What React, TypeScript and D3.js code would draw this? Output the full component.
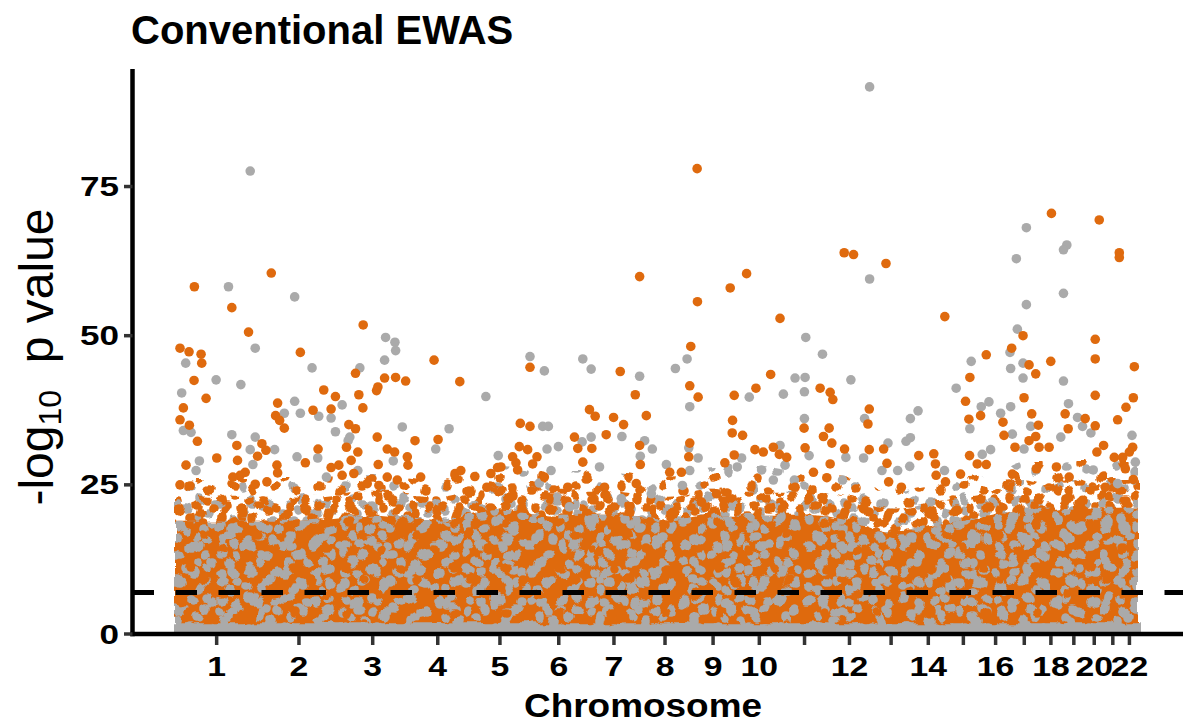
import React, { useEffect } from 'react';
import * as d3 from 'd3';

// ---------------- DATA ----------------
const chromosomes = ['1','2','3','4','5','6','7','8','9','10','11','12','13','14','15','16','17','18','19','20','21','22'];
const chrLengthsMb = [249.25, 243.2, 198.0, 191.2, 180.9, 171.1, 159.1, 146.4, 141.2, 135.5, 135.0, 133.9, 115.2, 107.3, 102.5, 90.4, 81.2, 78.1, 59.1, 63.0, 48.1, 51.3];
const chrTickLabels = ['1','2','3','4','5','6','7','8','9','10','','12','','14','','16','','18','','20','','22'];
const yTicks = [0, 25, 50, 75];
const yMax = 94.7;
const threshold = 6.95;
// upper edge of the dense cloud of CpGs (per chromosome, -log10 p)
const bandTop = [26, 26, 27, 26, 28, 27, 27, 26, 28, 28, 27, 26, 24, 25, 26, 27, 29, 29, 29, 29, 29, 29];
// level where the cloud becomes crowded
const midTop = [23, 23, 24, 23, 25, 24, 24, 23, 24, 24, 24, 23, 21, 22, 23, 24, 26, 25, 26, 25, 26, 26];
// level below which the cloud is (almost) fully covered
const solidTop = [19, 19, 20, 19, 21, 20, 20, 19, 20, 20, 20, 19, 17, 18, 19, 20, 21, 21, 21, 21, 21, 21];
const floorLevel = 1.8;

// individual CpGs above the dense cloud: [cumulative genome position (Mb), -log10 p]
const orangePoints: [number, number][] = [
  [58,58.2],[288,60.5],[170,54.7],[563,51.8],[1562,78.0],[1390,59.9],[1563,55.7],[1661,58.0],[1710,60.4],[1810,52.9],
  [2002,63.9],[2030,63.6],[2127,62.1],[2622,70.5],[2765,69.4],[2825,63.9],[2825,63.1],
  [15,47.9],[42,47.3],[78,46.9],[80,45.4],[57,42.5],[93,39.5],[25,37.9],[15,35.9],[43,35.0],[67,32.3],[125,29.5],[33,28.3],[15,25.0],
  [185,31.6],[260,31.9],[272,30.8],[247,29.8],[187,29.1],[305,28.3],[307,27.0],[275,25.5],[240,25.1],[210,27.1],[195,26.6],[173,26.3],
  [220,50.6],[375,47.2],[445,40.9],[480,39.8],[550,40.1],[562,37.9],[540,43.7],[775,45.9],[852,42.3],[603,40.8],[607,41.4],[627,42.9],
  [660,43.0],[690,42.4],[307,38.7],[301,36.6],[313,35.8],[327,34.5],[413,37.5],[467,37.7],[520,35.1],[540,34.4],[513,31.3],[527,29.1],
  [547,30.5],[605,33.0],[635,31.0],[657,30.5],[608,28.4],[635,26.3],[718,32.4],[787,32.6],[695,29.7],[697,28.3],[735,26.3],[838,26.9],
  [855,27.4],[428,31.0],[390,28.7],[467,27.9],[490,28.3],[500,26.6],[535,26.9],[575,25.2],[610,24.9],[665,25.8],
  [1062,44.7],[1332,44.0],[1377,40.1],[1410,36.6],[1543,48.2],[1540,41.6],[1565,39.7],[1673,40.0],[1738,41.2],[1782,43.5],[1033,35.3],
  [1062,34.8],[1030,31.4],[1055,30.9],[1083,29.7],[1020,28.7],[975,28.0],[897,26.4],[933,24.6],[1240,37.6],[1257,36.5],[1312,36.3],
  [1342,35.1],[1290,33.4],[1195,33.0],[1205,31.1],[1247,31.1],[1220,28.8],[1390,31.6],[1392,28.4],[1480,27.1],[1515,27.1],[1540,32.0],
  [1537,29.7],[1620,23.5],[1668,35.8],[1667,33.7],[1698,33.3],[1673,30.0],[1645,28.7],[1735,30.9],[1760,30.5],[1790,31.3],[1808,30.1],
  [1855,24.6],[965,27.9],[945,26.9],[1010,29.7],[1025,27.5],[1070,28.5],[1105,26.3],[1175,24.6],[1285,24.6],[1380,25.2],[1575,22.1],
  [1930,41.2],[1960,40.5],[1968,39.3],[2077,37.7],[2073,35.2],[1940,33.1],[1957,34.5],[1965,32.0],[1882,34.5],[1885,31.2],[2003,31.0],
  [2077,30.9],[1960,28.5],[1950,26.2],[1910,27.1],[1830,29.6],[2120,31.0],[2130,28.6],[2135,25.5],[2225,29.9],[2173,24.6],[2270,30.2],
  [2275,28.5],[2277,26.6],[2305,25.5],[2303,53.2],[2378,43.0],[2427,46.8],[2365,39.0],[2375,36.0],[2410,36.6],[2350,26.8],[2377,29.9],
  [2427,28.4],[2400,28.5],[2477,35.5],[2480,33.3],[2503,47.9],[2537,50.0],[2555,45.1],[2575,43.6],[2620,45.7],[2540,39.6],[2563,36.9],
  [2583,35.0],[2513,31.3],[2555,32.4],[2575,33.1],[2615,31.3],[2585,31.3],[2577,27.7],[2505,26.8],[2663,36.9],[2672,34.4],[2637,28.0],
  [2723,36.1],[2753,49.4],[2753,46.1],[2753,40.0],[2753,34.9],[2758,30.5],[2778,31.6],[2820,35.9],[2845,38.0],[2870,44.8],[2867,39.6],
  [2865,31.3],[2855,30.5],[2835,29.6],[2810,29.6],[2843,27.7],[2867,25.9],[2783,24.6],[2715,22.4],[2675,26.3]
];

const grayPoints: [number, number][] = [
  [225,77.6],[160,58.2],[358,56.5],[2078,91.7],[2078,59.5],[2547,68.1],[2668,65.2],[2658,64.4],[2517,62.9],[2658,57.1],[2547,55.2],
  [32,45.4],[123,42.6],[197,41.8],[20,40.4],[25,34.1],[48,33.8],[73,29.0],[63,27.4],[170,33.4],[240,33.0],[225,30.9],[298,30.9],[233,28.4],
  [240,47.9],[410,44.6],[500,38.4],[553,44.6],[627,45.9],[630,49.7],[658,48.9],[660,47.5],[327,37.0],[358,39.0],[375,37.0],[430,36.5],
  [467,36.2],[480,33.9],[518,32.4],[523,33.0],[653,29.0],[680,34.7],[780,31.0],[820,34.4],[365,29.7],[427,29.5],[453,26.3],[547,27.4],
  [930,39.8],[1062,46.5],[1105,44.1],[1220,46.1],[1245,44.4],[1390,43.2],[1497,44.5],[1532,46.1],[1540,38.1],[1718,39.7],[1820,40.2],
  [1855,42.9],[1100,34.8],[1117,34.8],[1147,31.4],[1113,31.0],[967,29.9],[1337,33.1],[1245,33.0],[1218,32.2],[1270,28.0],[1405,32.4],
  [1428,31.0],[1392,29.8],[1470,28.4],[1537,31.2],[1565,29.5],[1540,27.4],[1518,24.9],[1682,28.0],[1695,29.5],[1755,27.5],[1810,31.6],
  [1825,28.3],[1790,25.8],[1125,27.4],[1090,25.3],[1180,21.3],[1335,22.7],[1425,23.5],
  [1887,49.7],[1937,46.9],[1885,43.0],[1883,40.6],[2022,42.6],[2063,36.1],[1883,36.1],[1897,29.9],[2007,29.6],[2060,29.5],[1997,25.8],
  [1853,25.8],[2133,32.0],[2115,27.4],[2162,27.4],[2200,36.1],[2223,37.4],[2187,32.3],[2200,32.9],[2198,28.1],[2302,27.4],[2337,41.2],
  [2382,45.7],[2378,34.4],[2412,38.1],[2435,38.9],[2415,30.1],[2440,30.9],[2470,37.0],[2500,38.1],[2498,47.2],[2500,44.5],[2520,51.1],
  [2537,45.4],[2537,42.9],[2560,34.8],[2505,33.5],[2540,31.0],[2658,42.4],[2673,38.6],[2650,33.0],[2700,36.3],[2715,34.8],[2740,33.7],
  [2747,27.5],[2863,33.3],[2873,28.8],[2820,25.2]
];

// ---------------- STYLE ----------------
const ORANGE = '#DF6A0E';
const GRAY = '#AAAAAA';
const R = 4.8;
const FONT = '"Liberation Sans", Arial, Helvetica, sans-serif';

// decorative textures for the dense cloud: several co-prime tiles overlaid
type Tex = { id: string; w: number; h: number; fill: string; c: number[][] };
const textures: Tex[] = [
  { id: 'a1', w: 43, h: 38, fill: ORANGE, c: [[6,7],[27,22],[38,34],[18,30]] },
  { id: 'a2', w: 51, h: 33, fill: GRAY, c: [[14,9],[38,25],[47,4]] },
  { id: 'b1', w: 31, h: 27, fill: ORANGE, c: [[4,5],[17,10],[26,22],[10,20]] },
  { id: 'b3', w: 43, h: 37, fill: ORANGE, c: [[8,30],[20,5],[35,18],[28,32]] },
  { id: 'b2', w: 37, h: 33, fill: GRAY, c: [[12,26],[30,9],[2,14],[22,18]] },
  { id: 'c1', w: 31, h: 27, fill: GRAY, c: [[5,6],[20,15],[12,23]] },
  { id: 'c2', w: 47, h: 41, fill: GRAY, c: [[11,13],[36,6],[25,29],[44,37]] },
  { id: 'c4', w: 41, h: 29, fill: GRAY, c: [[30,22],[16,3],[2,18]] },
  { id: 'c3', w: 53, h: 45, fill: ORANGE, c: [[9,9],[30,28],[46,40]] },
];

function Pattern({ t }: { t: Tex }) {
  const els: JSX.Element[] = [];
  t.c.forEach(([cx, cy], i) => {
    for (let dx = -1; dx <= 1; dx++) for (let dy = -1; dy <= 1; dy++) {
      els.push(<circle key={`${i}_${dx}_${dy}`} cx={cx + dx * t.w} cy={cy + dy * t.h} r={R} fill={t.fill} />);
    }
  });
  return <pattern id={t.id} patternUnits="userSpaceOnUse" width={t.w} height={t.h}>{els}</pattern>;
}

export default function App() {
  useEffect(() => { document.body.style.margin = '0'; }, []);
  const W = 1183, H = 726;
  const total = d3.sum(chrLengthsMb);
  const starts = chrLengthsMb.map((_, i) => d3.sum(chrLengthsMb.slice(0, i)));
  const centers = starts.map((s, i) => s + chrLengthsMb[i] / 2);

  const x = d3.scaleLinear().domain([0, total]).range([175, 1138]);
  const y = d3.scaleLinear().domain([0, yMax]).range([634, 69]);

  const mk = (vals: number[]) => {
    const pts: [number, number][] = [[0, vals[0]], ...centers.map((c, i) => [c, vals[i]] as [number, number]), [total, vals[vals.length - 1]]];
    return d3.area<[number, number]>().x(d => x(d[0])).y0(y(0)).y1(d => y(d[1])).curve(d3.curveMonotoneX)(pts) || '';
  };
  const outerPath = mk(bandTop);
  const midPath = mk(midTop);
  const solidPath = mk(solidTop);

  const axisX0 = 132.5;
  const axisY0 = 634;

  return (
    <svg width={W} height={H} style={{ position: 'absolute', left: 0, top: 0, background: '#fff' }} fontFamily={FONT}>
      <defs>
        {textures.map(t => <Pattern key={t.id} t={t} />)}
        <filter id="rough" filterUnits="userSpaceOnUse" x={150} y={380} width={1010} height={270}>
          <feTurbulence type="fractalNoise" baseFrequency="0.05" numOctaves={2} seed={4} result="n" />
          <feDisplacementMap in="SourceGraphic" in2="n" scale={10} xChannelSelector="R" yChannelSelector="G" />
        </filter>
        <clipPath id="cloudClip">
          <rect x={x(0) - 1} y={0} width={x(total) - x(0) + 4} height={axisY0} />
        </clipPath>
      </defs>

      {/* title */}
      <text x={131} y={44} fontSize={40} fontWeight="bold" fill="#000">Conventional EWAS</text>

      {/* dense cloud */}
      <g clipPath="url(#cloudClip)">
        <g filter="url(#rough)">
          <path d={outerPath} fill="url(#a2)" />
          <path d={outerPath} fill="url(#a1)" />
          <path d={midPath} fill="url(#b2)" />
          <path d={midPath} fill="url(#b1)" />
          <path d={midPath} fill="url(#b3)" />
          <path d={solidPath} fill={ORANGE} />
          <path d={solidPath} fill="url(#c1)" />
          <path d={solidPath} fill="url(#c2)" />
          <path d={solidPath} fill="url(#c4)" />
          <path d={solidPath} fill="url(#c3)" />
          <rect x={x(0) - 6} y={y(floorLevel)} width={x(total) - x(0) + 10} height={y(0) - y(floorLevel) + 6} fill={GRAY} />
        </g>
      </g>

      {/* individual points */}
      {grayPoints.map((d, i) => <circle key={'g' + i} cx={x(d[0])} cy={y(d[1])} r={R} fill={GRAY} />)}
      {orangePoints.map((d, i) => <circle key={'o' + i} cx={x(d[0])} cy={y(d[1])} r={R} fill={ORANGE} />)}

      {/* threshold */}
      <line x1={axisX0} x2={W} y1={y(threshold)} y2={y(threshold)} stroke="#000" strokeWidth={5} strokeDasharray="21.5 21.5" />

      {/* axes */}
      <line x1={axisX0} x2={axisX0} y1={69} y2={axisY0 + 2.3} stroke="#000" strokeWidth={4.5} />
      <line x1={axisX0 - 2.3} x2={W} y1={axisY0} y2={axisY0} stroke="#000" strokeWidth={4.5} />

      {yTicks.map(t => (
        <g key={'yt' + t}>
          <line x1={124} x2={axisX0} y1={y(t)} y2={y(t)} stroke="#333" strokeWidth={3.5} />
          <text transform={`translate(119,${y(t) + 9.5}) scale(1.3,1)`} textAnchor="end" fontSize={27} fontWeight="bold" fill="#000">{t}</text>
        </g>
      ))}

      {centers.map((c, i) => (
        <g key={'xt' + i}>
          <line x1={x(c)} x2={x(c)} y1={axisY0 + 2} y2={axisY0 + 11} stroke="#333" strokeWidth={3.5} />
          {chrTickLabels[i] && (
            <text transform={`translate(${x(c)},${676}) scale(1.25,1)`} textAnchor="middle" fontSize={27} fontWeight="bold" fill="#000">{chrTickLabels[i]}</text>
          )}
        </g>
      ))}

      <text transform={`translate(643,717) scale(1.12,1)`} textAnchor="middle" fontSize={33} fontWeight="bold" fill="#000">Chromosome</text>

      <text transform={`translate(53,357) rotate(-90)`} textAnchor="middle" fontSize={48} fill="#000">
        -log<tspan fontSize={32} dy={8}>10</tspan><tspan dy={-8}>{'\u00A0\u00A0'}p value</tspan>
      </text>
    </svg>
  );
}
